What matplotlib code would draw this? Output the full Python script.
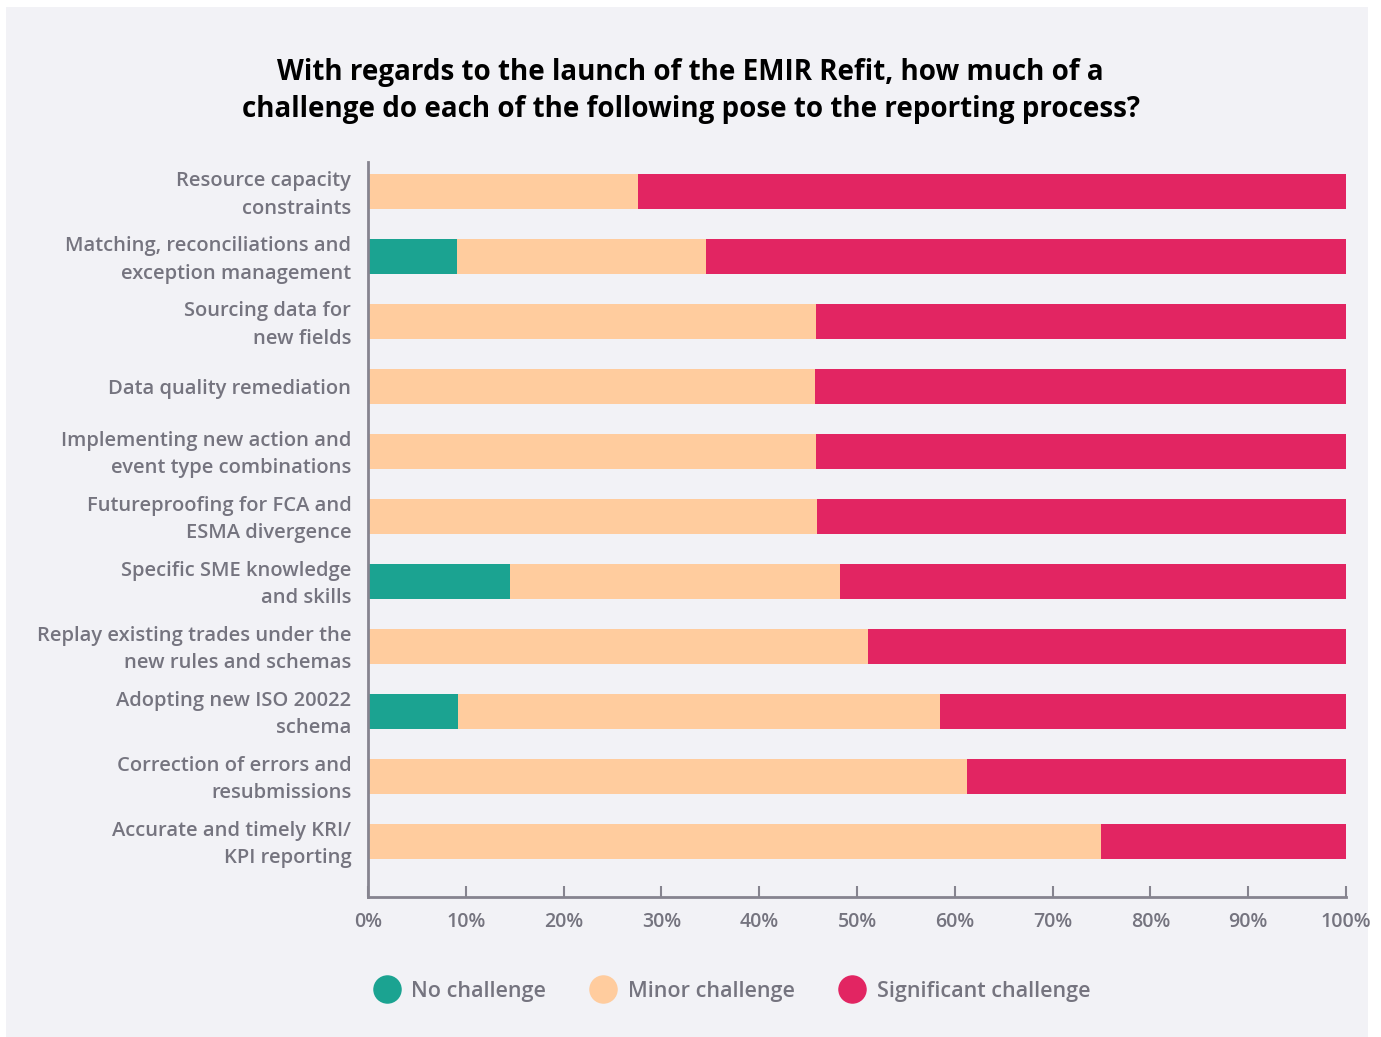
import matplotlib
matplotlib.use("Agg")
import matplotlib.pyplot as plt
from matplotlib.patches import Rectangle
from matplotlib.lines import Line2D
from matplotlib.transforms import ScaledTranslation
import numpy as np

categories = [
    "Resource capacity\nconstraints",
    "Matching, reconciliations and\nexception management",
    "Sourcing data for\nnew fields",
    "Data quality remediation",
    "Implementing new action and\nevent type combinations",
    "Futureproofing for FCA and\nESMA divergence",
    "Specific SME knowledge\nand skills",
    "Replay existing trades under the\nnew rules and schemas",
    "Adopting new ISO 20022\nschema",
    "Correction of errors and\nresubmissions",
    "Accurate and timely KRI/\nKPI reporting",
]
no_challenge = [0, 9.1, 0, 0, 0, 0, 14.5, 0, 9.2, 0, 0]
minor_challenge = [27.6, 25.5, 45.8, 45.7, 45.8, 45.9, 33.8, 51.1, 49.3, 61.2, 75.0]
significant_challenge = [72.4, 65.4, 54.2, 54.3, 54.2, 54.1, 51.7, 48.9, 41.5, 38.8, 25.0]
series_names = ["No challenge", "Minor challenge", "Significant challenge"]
x_ticks = [0, 10, 20, 30, 40, 50, 60, 70, 80, 90, 100]
x_tick_labels = [f"{t}%" for t in x_ticks]
title = ("With regards to the launch of the EMIR Refit, how much of a\n"
         "challenge do each of the following pose to the reporting process?")

colors = ["#1BA391", "#FFCC9E", "#E22562"]
bg = "#F2F2F6"
label_color = "#75747F"
axis_color = "#86848F"
fam = ["Open Sans", "DejaVu Sans"]

fig = plt.figure(figsize=(13.81, 10.37), dpi=100)
fig.patch.set_facecolor("white")
fig.patches.append(Rectangle((6 / 1381, 0), (1368 - 6) / 1381, 1 - 7 / 1037,
                             transform=fig.transFigure, facecolor=bg,
                             edgecolor="none", zorder=-10))

ax = fig.add_axes([368 / 1381, 1 - 897 / 1037, (1346 - 368) / 1381, (897 - 162) / 1037])
ax.patch.set_alpha(0)

y = np.arange(len(categories))
left = np.zeros(len(categories))
for vals, c, name in zip([no_challenge, minor_challenge, significant_challenge], colors, series_names):
    v = np.array(vals)
    ax.barh(y, v, left=left, height=0.54, color=c, label=name, zorder=2)
    left = left + v

ax.set_xlim(0, 100)
ax.set_ylim(len(categories) - 1 + 0.86, -0.45)
ax.set_yticks(y)
ax.set_yticklabels(categories, fontsize=14.5, color=label_color,
                   family=fam, fontweight="semibold", linespacing=1.52)
ax.tick_params(axis="y", length=0, pad=12)
shift = ScaledTranslation(0, 3 / 100, fig.dpi_scale_trans)
for lab in ax.get_yticklabels():
    if "\n" in lab.get_text():
        lab.set_transform(lab.get_transform() + shift)
ax.set_xticks(x_ticks)
ax.set_xticklabels(x_tick_labels, fontsize=14, color=label_color,
                   family=fam, fontweight="semibold")
ax.tick_params(axis="x", direction="in", length=8, width=1.5, color=axis_color, pad=11)

for s in ["top", "right"]:
    ax.spines[s].set_visible(False)
for s in ["left", "bottom"]:
    ax.spines[s].set_color(axis_color)
    ax.spines[s].set_linewidth(2)

fig.text(0.5, 1 - 91 / 1037, title, ha="center", va="center", fontsize=20,
         fontweight="bold", color="black", family=fam, linespacing=1.38)

handles = [Line2D([0], [0], marker="o", linestyle="none", markersize=19.5,
                  markerfacecolor=c, markeredgecolor=c) for c in colors]
leg = fig.legend(handles, series_names, loc="center", bbox_to_anchor=(0.527, 1 - 991 / 1037),
                 ncol=3, frameon=False, handletextpad=0.15, columnspacing=1.65,
                 prop={"family": fam, "weight": "semibold", "size": 15.5})
for t in leg.get_texts():
    t.set_color(label_color)

fig.savefig("out.png", dpi=100, facecolor="white")
